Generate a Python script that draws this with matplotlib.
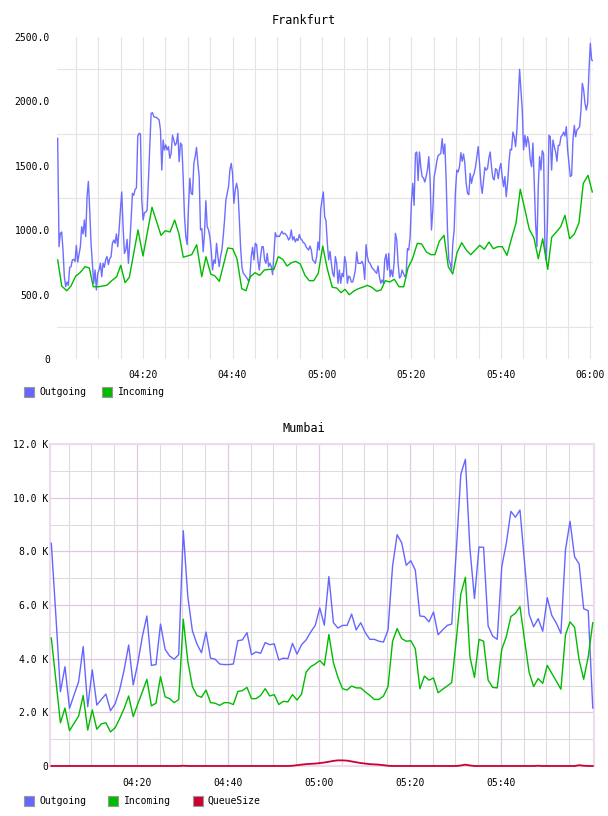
import numpy as np
import matplotlib
matplotlib.use('Agg')
import matplotlib.pyplot as plt
from matplotlib.patches import Rectangle
from matplotlib.ticker import FixedLocator, FuncFormatter

MONO = 'DejaVu Sans Mono'
matplotlib.rcParams['font.family'] = MONO

# ---- Frankfurt: minutes after 04:00 ----
fra_out = [1713, 872, 976, 986, 846, 639, 562, 598, 572, 712, 717, 769, 774, 758, 882, 753, 815, 872, 1027, 971,
           1079, 950, 1260, 1379, 1157, 898, 743, 588, 691, 536, 665, 691, 743, 639, 743, 712, 774, 795, 733, 779,
           795, 898, 924, 898, 971, 872, 1002, 1157, 1297, 1027, 820, 846, 929, 743, 898, 1079, 1286, 1271, 1317, 1328,
           1731, 1752, 1747, 1234, 1079, 1136, 1141, 1157, 1390, 1649, 1907, 1913, 1882, 1876, 1876, 1866, 1856, 1778,
           1467, 1700, 1623, 1662, 1623, 1649, 1558, 1597, 1737, 1700, 1659, 1677, 1752, 1532, 1677, 1662, 1416, 1105,
           950, 888, 1183, 1403, 1286, 1276, 1519, 1571, 1643, 1519, 1416, 1002, 1012, 833, 976, 1229, 1027, 1002, 950,
           846, 691, 769, 743, 898, 795, 717, 795, 846, 950, 1079, 1234, 1286, 1338, 1467, 1519, 1441, 1208, 1312, 1364,
           1312, 1105, 872, 717, 665, 655, 639, 624, 603, 639, 795, 867, 769, 898, 888, 769, 691, 795, 872, 872, 769,
           743, 820, 717, 743, 717, 655, 820, 981, 950, 955, 950, 971, 991, 971, 976, 966, 950, 924, 940, 1002, 924,
           950, 909, 934, 919, 966, 934, 924, 903, 898, 872, 857, 846, 877, 846, 769, 758, 743, 795, 909, 846, 1157,
           1234, 1297, 1105, 1074, 898, 769, 836,
           743, 665, 639, 795, 743, 588, 691, 588, 665, 639, 795, 743, 588, 644, 634, 598, 598, 639, 691, 831, 743,
           743, 743, 758, 727, 618, 888, 795, 753, 743, 717, 701, 691, 676, 665, 722, 639, 588, 613, 588, 769, 815,
           691, 820, 639, 691, 639, 743, 976, 924, 743, 629, 639, 691, 665, 639, 655, 857, 846, 950, 1219, 1364, 1193,
           1597, 1607, 1385, 1607, 1493, 1416, 1405, 1374, 1416, 1467, 1571, 1390, 1002, 1157, 1416, 1467, 1535, 1581,
           1587, 1597, 1711, 1592, 1669, 1390, 1002, 769, 743, 691, 898, 1002, 1312, 1467, 1452, 1493, 1602, 1535,
           1592, 1519, 1364, 1286, 1276, 1441, 1364, 1416, 1441, 1493, 1571, 1649, 1519, 1364, 1286, 1390, 1488, 1467,
           1478, 1560, 1607, 1488, 1405, 1390, 1478, 1467, 1400, 1478, 1519, 1416, 1338, 1416, 1260, 1364, 1519, 1628,
           1623, 1762, 1726, 1649, 1778, 2011, 2249, 2089, 1933, 1623, 1737, 1649, 1726, 1677, 1545, 1493, 1677, 1364,
           1053, 872, 1338, 1571, 1467, 1618, 1592, 872, 769, 1105, 1737, 1726, 1467, 1700, 1649, 1607, 1535, 1659,
           1659, 1726, 1737, 1762, 1731, 1804, 1623, 1519, 1416, 1426, 1700, 1814, 1726, 1778, 1789, 1804, 1933, 2140,
           2089, 1985, 1933, 1985, 2244, 2451, 2321, 2316]
fra_out_start, fra_out_end = 0.93, 120.56

fra_in_t = [0.94, 1.83, 2.95, 3.91, 4.96, 5.92, 7.04, 8.0, 8.89, 10.01, 11.89, 13.0, 14.12, 15.02, 15.98, 16.94,
            18.88, 20.0, 22.01, 24.02, 24.98, 26.03, 27.08, 28.04, 29.0, 30.88, 32.0, 33.12, 34.08, 35.13, 36.09,
            37.05, 38.93, 40.04, 41.0, 42.06, 43.02, 43.98, 45.03, 46.08, 47.11, 48.22, 49.27, 50.23, 51.22, 52.18,
            53.23, 54.12, 55.15, 56.2, 57.16, 58.15, 59.17, 60.16,
            61.18, 62.30, 63.28, 64.25, 65.14, 66.10, 67.22, 68.11, 69.10, 70.12, 71.10, 72.22, 73.18, 74.15, 75.13,
            76.16, 77.21, 78.26, 79.22, 80.18, 81.30, 82.28, 83.31, 84.36, 85.25, 86.21, 87.26, 88.22, 89.21, 90.17,
            91.22, 92.25, 93.23, 94.26, 95.24, 96.27, 97.32, 98.28, 99.33, 100.29, 101.34, 102.30, 103.35, 104.31,
            105.36, 106.32, 107.37, 108.33, 109.32, 110.44, 111.33, 112.36, 113.34, 114.30, 115.35, 116.38, 117.43,
            118.39, 119.44, 120.40]
fra_in = [769, 567, 530, 567, 644, 670, 717, 707, 561, 561, 572, 608, 639, 727, 593, 634, 1002, 800, 1178, 960,
          996, 986, 1079, 970, 790, 810, 887, 639, 794, 660, 644, 603, 862, 856, 779, 546, 530, 639, 670, 649,
          691, 696, 696, 794, 774, 722, 748, 758, 738, 649, 608, 608, 665, 877,
          700, 557, 551, 515, 541, 499, 530, 546, 557, 572, 557, 526, 536, 608, 598, 619, 561, 561, 707, 774,
          898, 893, 831, 810, 810, 914, 960, 717, 660, 826, 903, 846, 810, 846, 883, 852, 908, 856, 872, 872,
          805, 929, 1054, 1318, 1157, 1007, 939, 779, 934, 696, 945, 986, 1027, 1116, 934, 970, 1058, 1364, 1426, 1297]

# ---- Mumbai: one sample per minute, values in K ----
mum_start = 1.17
mum_out = [8.30, 5.6, 2.77, 3.70, 2.15, 2.65, 3.14, 4.45, 2.21, 3.58,
           2.27, 2.48, 2.68, 2.06, 2.31, 2.83, 3.58, 4.51, 3.02, 3.83,
           4.82, 5.59, 3.75, 3.78, 5.29, 4.35, 4.10, 3.98, 4.15, 8.77,
           6.31, 5.04, 4.55, 4.22, 4.99, 4.02, 3.98, 3.80, 3.78, 3.78,
           3.80, 4.67, 4.70, 4.97, 4.15, 4.25, 4.20, 4.60, 4.52, 4.55,
           3.95, 4.02, 4.00, 4.57, 4.17, 4.52, 4.70, 4.99, 5.24, 5.89,
           5.25, 7.06, 5.34, 5.14, 5.24, 5.24, 5.66, 5.07, 5.34, 4.97,
           4.72, 4.72, 4.65, 4.62, 5.07, 7.45, 8.62, 8.32, 7.48, 7.65,
           7.30, 5.59, 5.57, 5.37, 5.74, 4.89, 5.07, 5.24, 5.29, 8.0,
           10.87, 11.43, 8.1, 6.24, 8.16, 8.15, 5.22, 4.84, 4.72, 7.43,
           8.30, 9.49, 9.27, 9.54, 7.6, 5.66, 5.19, 5.49, 5.02, 6.27,
           5.61, 5.32, 4.94, 8.05, 9.12, 7.80, 7.53, 5.86, 5.79, 2.16]
mum_in = [4.77, 3.2, 1.61, 2.16, 1.32, 1.59, 1.86, 2.63, 1.34, 2.09,
          1.37, 1.57, 1.61, 1.27, 1.42, 1.76, 2.14, 2.61, 1.84, 2.31,
          2.76, 3.23, 2.24, 2.34, 3.33, 2.58, 2.51, 2.36, 2.48, 5.47,
          3.90, 2.96, 2.63, 2.56, 2.83, 2.36, 2.34, 2.26, 2.36, 2.36,
          2.29, 2.78, 2.81, 2.93, 2.51, 2.51, 2.63, 2.88, 2.61, 2.66,
          2.29, 2.41, 2.39, 2.66, 2.46, 2.68, 3.50, 3.70, 3.80, 3.93,
          3.75, 4.9, 3.85, 3.30, 2.88, 2.83, 2.98, 2.91, 2.91, 2.76,
          2.63, 2.48, 2.48, 2.61, 2.96, 4.65, 5.12, 4.75, 4.65, 4.67,
          4.37, 2.88, 3.35, 3.20, 3.28, 2.73, 2.86, 2.98, 3.11, 4.7,
          6.41, 7.03, 4.07, 3.30, 4.72, 4.65, 3.20, 2.93, 2.91, 4.35,
          4.82, 5.57, 5.69, 5.94, 4.70, 3.50, 2.96, 3.26, 3.08, 3.75,
          3.45, 3.16, 2.86, 4.89, 5.37, 5.17, 3.95, 3.23, 4.07, 5.34]
mum_queue = [0.0, 0.0, 0.0, 0.0, 0.0, 0.0, 0.0, 0.0, 0.0, 0.0,
             0.0, 0.0, 0.0, 0.0, 0.0, 0.0, 0.0, 0.0, 0.0, 0.0,
             0.0, 0.0, 0.0, 0.0, 0.0, 0.0, 0.0, 0.0, 0.0, 0.01,
             0.0, 0.0, 0.0, 0.0, 0.0, 0.0, 0.0, 0.0, 0.0, 0.0,
             0.0, 0.0, 0.0, 0.0, 0.0, 0.0, 0.0, 0.0, 0.0, 0.0,
             0.0, 0.0, 0.0, 0.01, 0.03, 0.05, 0.07, 0.08, 0.09, 0.11,
             0.13, 0.16, 0.19, 0.21, 0.21, 0.20, 0.17, 0.14, 0.11, 0.09,
             0.07, 0.06, 0.05, 0.03, 0.01, 0.0, 0.0, 0.0, 0.0, 0.0,
             0.0, 0.0, 0.0, 0.0, 0.0, 0.0, 0.0, 0.0, 0.0, 0.0,
             0.02, 0.05, 0.02, 0.0, 0.0, 0.0, 0.0, 0.0, 0.0, 0.0,
             0.0, 0.0, 0.0, 0.0, 0.0, 0.0, 0.0, 0.01, 0.0, 0.0,
             0.0, 0.0, 0.0, 0.0, 0.0, 0.0, 0.03, 0.01, 0.0, 0.0]

time_labels = ['04:20', '04:40', '05:00', '05:20', '05:40', '06:00']
time_ticks = [20, 40, 60, 80, 100, 120]

C_OUT = '#6666ff'
C_IN = '#00bb00'
C_Q = '#cc0033'

W, H = 608, 816
fig = plt.figure(figsize=(W / 100, H / 100), dpi=100)

def fbox(l, t, r, b):
    return [l / W, 1 - b / H, (r - l) / W, (b - t) / H]

# ---------------- Frankfurt ----------------
ax1 = fig.add_axes(fbox(57, 37, 593, 359))
fra_out_t = np.linspace(fra_out_start, fra_out_end, len(fra_out))
ax1.plot(fra_out_t, fra_out, color=C_OUT, lw=1.0, alpha=0.95)
ax1.plot(fra_in_t, fra_in, color=C_IN, lw=1.0)
ax1.set_xlim(0.78, 120.56)
ax1.set_ylim(0, 2500)
for s in ax1.spines.values():
    s.set_visible(False)
ax1.xaxis.set_major_locator(FixedLocator(time_ticks))
ax1.set_xticklabels(time_labels)
ax1.xaxis.set_minor_locator(FixedLocator([m for m in range(5, 121, 5) if m % 20]))
ax1.yaxis.set_major_locator(FixedLocator([0, 500, 1000, 1500, 2000, 2500]))
ax1.yaxis.set_major_formatter(FuncFormatter(lambda v, p: '0' if v == 0 else '%.1f' % v))
ax1.yaxis.set_minor_locator(FixedLocator([250, 750, 1250, 1750, 2250]))
ax1.grid(True, axis='x', which='both', color='#e4e4e4', lw=0.8)
ax1.grid(True, axis='y', which='minor', color='#e4e4e4', lw=0.8)
ax1.grid(False, axis='y', which='major')
ax1.tick_params(which='both', length=0)
ax1.tick_params(axis='x', pad=8, labelsize=7)
ax1.tick_params(axis='y', pad=5, labelsize=7)
ax1.set_axisbelow(True)

# ---------------- Mumbai ----------------
ax2 = fig.add_axes(fbox(50, 444, 594, 766))
mum_t = mum_start + np.arange(len(mum_out))
ax2.plot(mum_t, mum_out, color=C_OUT, lw=1.0, zorder=3)
ax2.plot(mum_t, mum_in, color=C_IN, lw=1.0, zorder=3)
ax2.plot(mum_t, mum_queue, color=C_Q, lw=1.3, zorder=4, clip_on=False)
ax2.set_xlim(0.88, 120.44)
ax2.set_ylim(0, 12)
for s in ax2.spines.values():
    s.set_color('#ecdcec')
    s.set_linewidth(1.5)
ax2.xaxis.set_major_locator(FixedLocator(time_ticks[:-1]))
ax2.set_xticklabels(time_labels[:-1])
ax2.xaxis.set_minor_locator(FixedLocator([m for m in range(5, 120, 5) if m % 20]))
ax2.yaxis.set_major_locator(FixedLocator([0, 2, 4, 6, 8, 10, 12]))
ax2.yaxis.set_major_formatter(FuncFormatter(lambda v, p: '0' if v == 0 else '%.1f K' % v))
ax2.yaxis.set_minor_locator(FixedLocator([1, 3, 5, 7, 9, 11]))
ax2.grid(True, which='major', color='#e0c8e0', lw=0.9)
ax2.grid(True, which='minor', color='#dcdcdc', lw=0.8)
ax2.tick_params(which='both', length=0)
ax2.tick_params(axis='x', pad=9, labelsize=7)
ax2.tick_params(axis='y', pad=1, labelsize=7)
ax2.set_axisbelow(True)

# ---------------- titles ----------------
fig.text(304 / W, 1 - 20 / H, 'Frankfurt', ha='center', va='center', fontsize=8.5)
fig.text(304 / W, 1 - 429 / H, 'Mumbai', ha='center', va='center', fontsize=8.5)

# ---------------- legends ----------------
def legend_item(x_box, x_txt, y_mid, color, label):
    fig.add_artist(Rectangle((x_box / W, 1 - (y_mid + 5) / H), 10 / W, 10 / H,
                             transform=fig.transFigure, facecolor=color,
                             edgecolor='#999999', lw=0.8))
    fig.text(x_txt / W, 1 - y_mid / H, label, ha='left', va='center', fontsize=7)

legend_item(24, 39, 392, C_OUT, 'Outgoing')
legend_item(102, 118, 392, C_IN, 'Incoming')
legend_item(24, 39, 801, C_OUT, 'Outgoing')
legend_item(108, 124, 801, C_IN, 'Incoming')
legend_item(193, 207, 801, C_Q, 'QueueSize')

fig.savefig('out.png', dpi=100)
